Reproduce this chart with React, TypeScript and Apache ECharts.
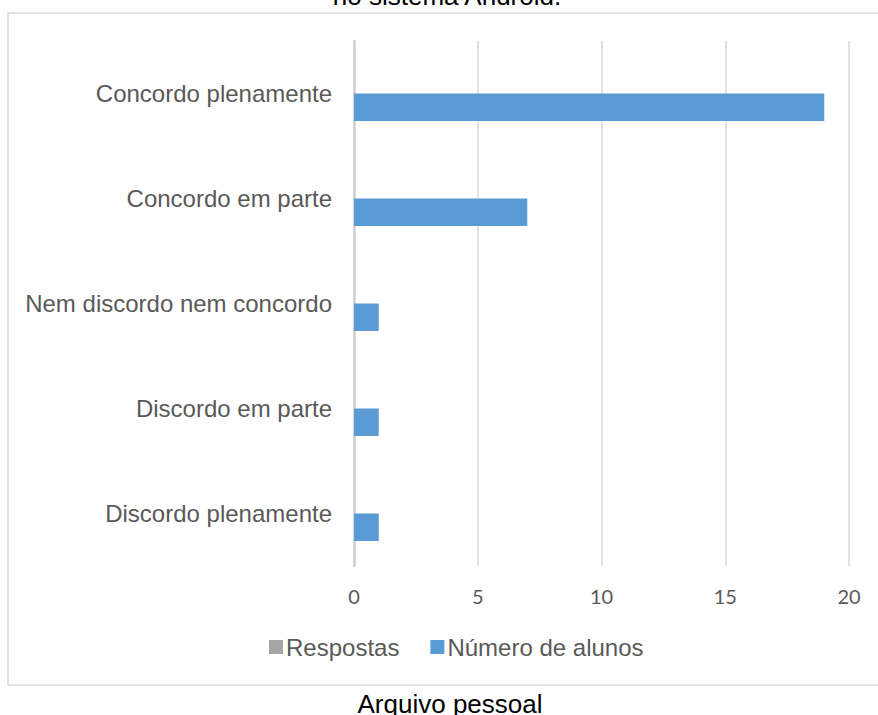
import React, { useEffect, useRef } from "react";
import * as echarts from "echarts";

const categories = [
  "Concordo plenamente",
  "Concordo em parte",
  "Nem discordo nem concordo",
  "Discordo em parte",
  "Discordo plenamente",
];
const respostas: (number | null)[] = [null, null, null, null, null];
const numeroDeAlunos = [19, 7, 1, 1, 1];
const seriesNames = ["Respostas", "Número de alunos"];
const xTicks = { min: 0, max: 20, interval: 5 };
const titleText = "no sistema Android.";
const captionText = "Arquivo pessoal";

export default function App() {
  const ref = useRef<HTMLDivElement>(null);
  useEffect(() => {
    if (!ref.current) return;
    const chart = echarts.init(ref.current, null, { renderer: "svg" });
    const textColor = "#595959";
    chart.setOption({
      animation: false,
      backgroundColor: "#ffffff",
      grid: { left: 354, top: 41, width: 495, height: 525, containLabel: false },
      legend: {
        left: 264,
        top: 630,
        itemWidth: 14,
        itemHeight: 14,
        itemGap: 31,
        icon: "rect",
        data: seriesNames,
        textStyle: { color: textColor, fontSize: 24, fontFamily: "Liberation Sans, Arial, sans-serif", padding: [0, 0, 0, -2] },
      },
      xAxis: {
        type: "value",
        min: xTicks.min,
        max: xTicks.max,
        interval: xTicks.interval,
        axisLine: { show: false },
        axisTick: { show: false },
        splitLine: { show: true, lineStyle: { color: "#d9d9d9", width: 1.5 } },
        axisLabel: { color: textColor, fontSize: 20, fontFamily: "Lato, sans-serif", margin: 20 },
      },
      yAxis: {
        type: "category",
        inverse: true,
        data: categories,
        axisTick: { show: false },
        axisLine: { show: true, lineStyle: { color: "#d0d0d0", width: 2.5 } },
        axisLabel: { color: textColor, fontSize: 24, fontFamily: "Liberation Sans, Arial, sans-serif", margin: 22 },
      },
      series: [
        {
          name: seriesNames[0],
          type: "bar",
          data: respostas,
          barWidth: 27.5,
          barGap: "0%",
          itemStyle: { color: "#a5a5a5" },
        },
        {
          name: seriesNames[1],
          type: "bar",
          data: numeroDeAlunos,
          barWidth: 27.5,
          barGap: "0%",
          itemStyle: { color: "#5b9bd5" },
        },
      ],
      graphic: [
        {
          type: "rect",
          shape: { x: 8, y: 13, width: 900, height: 672 },
          style: { fill: "none", stroke: "#d9d9d9", lineWidth: 1.5 },
          silent: true,
        },
        {
          type: "text",
          x: 447,
          y: -4,
          style: {
            text: titleText,
            fill: "#000000",
            fontSize: 26,
            fontFamily: "Liberation Sans, Arial, sans-serif",
            align: "center",
            verticalAlign: "middle",
          },
        },
        {
          type: "text",
          x: 450,
          y: 704,
          style: {
            text: captionText,
            fill: "#000000",
            fontSize: 26,
            fontFamily: "Liberation Sans, Arial, sans-serif",
            align: "center",
            verticalAlign: "middle",
          },
        },
      ],
    });
    return () => chart.dispose();
  }, []);
  return (
    <div
      ref={ref}
      style={{ position: "fixed", left: 0, top: 0, width: 878, height: 715 }}
    />
  );
}
